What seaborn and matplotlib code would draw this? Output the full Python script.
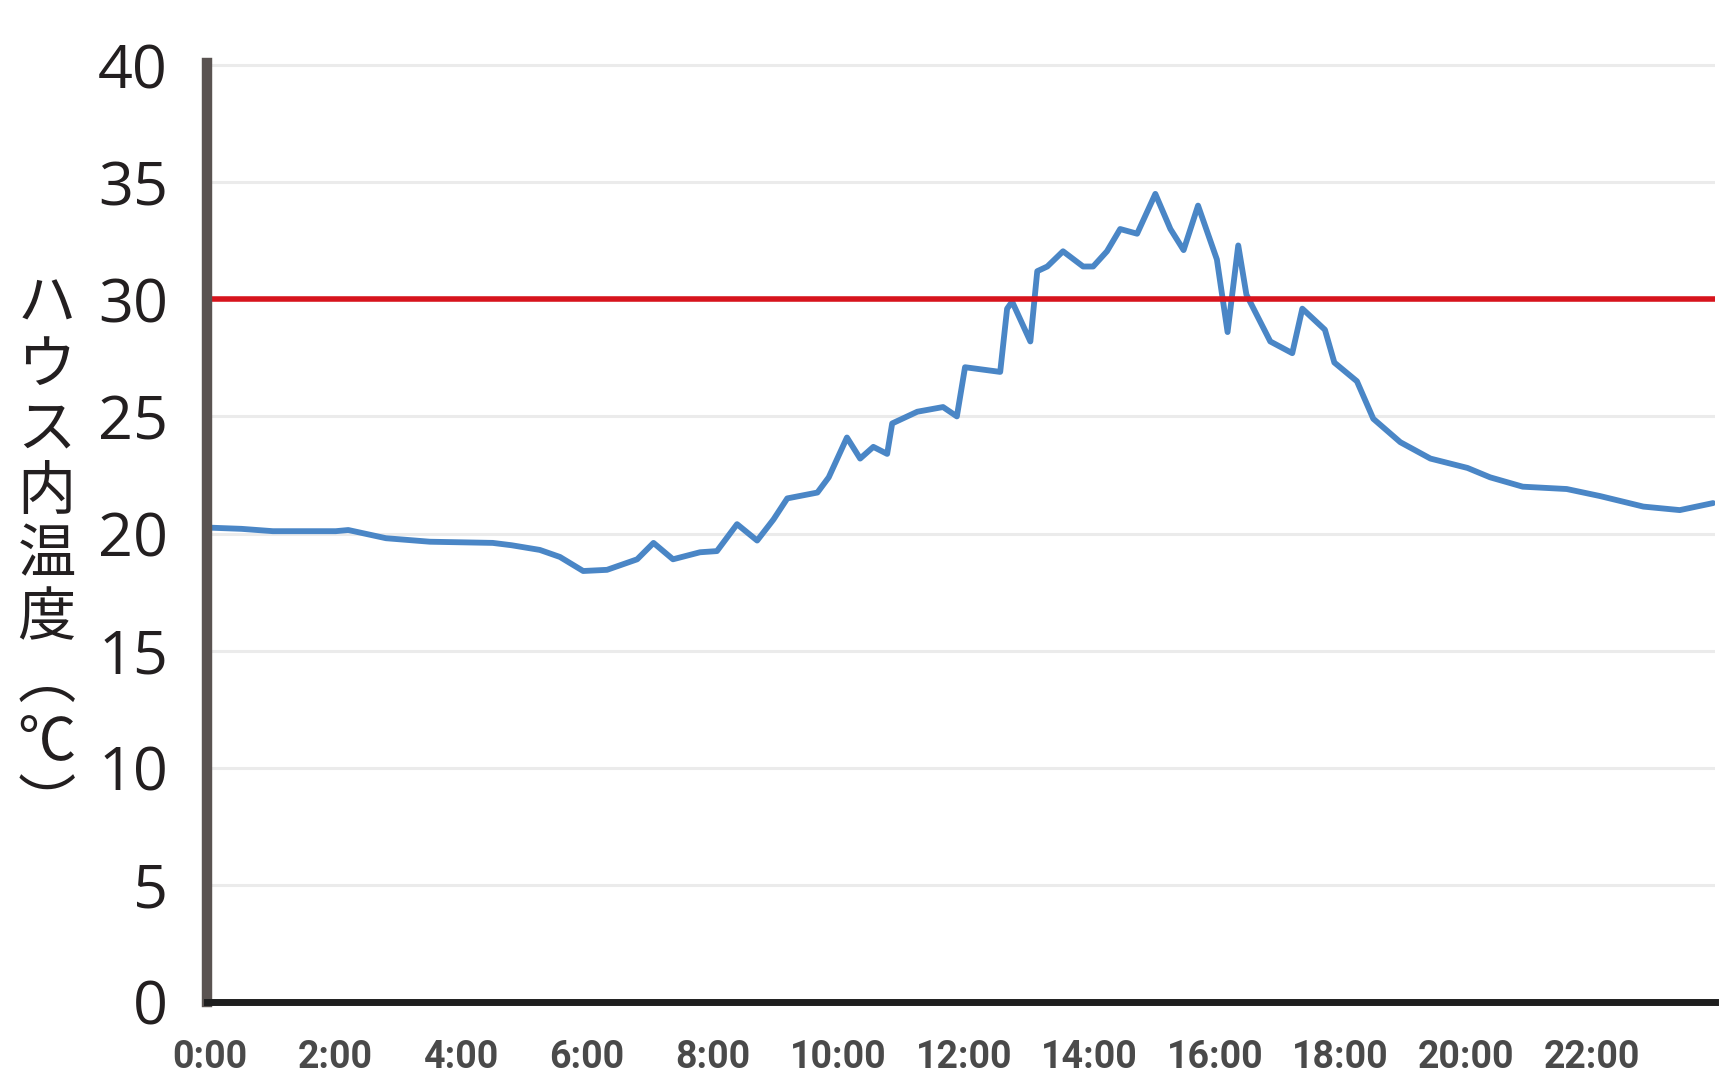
import matplotlib
matplotlib.use("Agg")
import matplotlib.pyplot as plt
import seaborn as sns
import pandas as pd

# readings of the house temperature over one day (hour of day, deg C)
hours = [0.0, 0.5, 1.0, 2.0, 2.2, 2.8, 3.5, 4.5, 4.8, 5.25, 5.57, 5.94, 6.32, 6.8,
         7.06, 7.37, 7.8, 8.07, 8.39, 8.71, 8.97, 9.19, 9.67, 9.85, 10.14, 10.35,
         10.56, 10.78, 10.86, 11.26, 11.67, 11.89, 12.02, 12.58, 12.69, 12.77,
         13.06, 13.17, 13.33, 13.58, 13.9, 14.06, 14.28, 14.49, 14.76, 15.05,
         15.29, 15.5, 15.73, 16.03, 16.2, 16.37, 16.5, 16.88, 17.23, 17.39,
         17.75, 17.9, 18.26, 18.52, 18.95, 19.43, 20.02, 20.38, 20.9, 21.6,
         22.13, 22.82, 23.4, 23.93]
temps = [20.25, 20.2, 20.1, 20.1, 20.15, 19.8, 19.65, 19.6, 19.5, 19.3, 19.0, 18.4,
         18.45, 18.9, 19.6, 18.9, 19.2, 19.25, 20.4, 19.7, 20.6, 21.5, 21.75, 22.4,
         24.1, 23.2, 23.7, 23.4, 24.7, 25.2, 25.4, 25.0, 27.1, 26.9, 29.6, 29.9,
         28.2, 31.2, 31.4, 32.05, 31.4, 31.4, 32.05, 33.0, 32.8, 34.5, 33.0, 32.1,
         34.0, 31.7, 28.6, 32.3, 30.2, 28.2, 27.7, 29.6, 28.7, 27.3, 26.5, 24.9,
         23.9, 23.2, 22.8, 22.4, 22.0, 21.9, 21.6, 21.15, 21.0, 21.3]

threshold = 30
y_ticks = [0, 5, 10, 15, 20, 25, 30, 35, 40]
x_ticks = [0, 2, 4, 6, 8, 10, 12, 14, 16, 18, 20, 22]
x_labels = [f"{h}:00" for h in x_ticks]
y_title = "ハウス内温度︵℃︶"

df = pd.DataFrame({"hour": hours, "temp": temps})

sns.set_style("white")
plt.rcParams['font.family'] = ['Open Sans', 'Noto Sans CJK JP', 'DejaVu Sans']

fig = plt.figure(figsize=(17.26, 10.89), dpi=100)
ax = fig.add_axes([0.1199, 0.0799, 0.8737, 0.8625])

ax.grid(axis='y', color='#ebebeb', linewidth=2.2, zorder=0)
ax.grid(axis='x', visible=False)
sns.lineplot(data=df, x='hour', y='temp', ax=ax, color='#4a86c6', linewidth=4.2,
             sort=False, estimator=None, zorder=3)
ax.axhline(threshold, color='#d7141d', linewidth=4, zorder=4)

ax.set_xlim(-0.05, 23.96)
ax.set_ylim(0, 40.1)
ax.set_yticks(y_ticks)
ax.set_yticklabels([str(v) for v in y_ticks], fontsize=44, color='#231f20')
ax.set_xticks(x_ticks)
ax.set_xticklabels(x_labels, fontsize=27, color='#4a4a4a', fontweight='bold',
                   family=['Roboto', 'DejaVu Sans'])
ax.tick_params(axis='y', length=0, pad=28)
ax.tick_params(axis='x', length=0, pad=27)
ax.set_xlabel('')
ax.set_ylabel('')

for side in ['top', 'right']:
    ax.spines[side].set_visible(False)
ax.spines['left'].set_color('#5a5351')
ax.spines['left'].set_linewidth(7.5)
ax.spines['bottom'].set_color('#1e1e1e')
ax.spines['bottom'].set_linewidth(5)
ax.spines['left'].set_zorder(5)
ax.spines['bottom'].set_zorder(5)

# upright characters stacked vertically
fig.text(0.027, 0.49, "\n".join(y_title), fontsize=42, color='#231f20',
         ha='center', va='center', linespacing=1.04,
         family=['Noto Sans CJK JP', 'DejaVu Sans'])

fig.savefig('out.png', dpi=100)
